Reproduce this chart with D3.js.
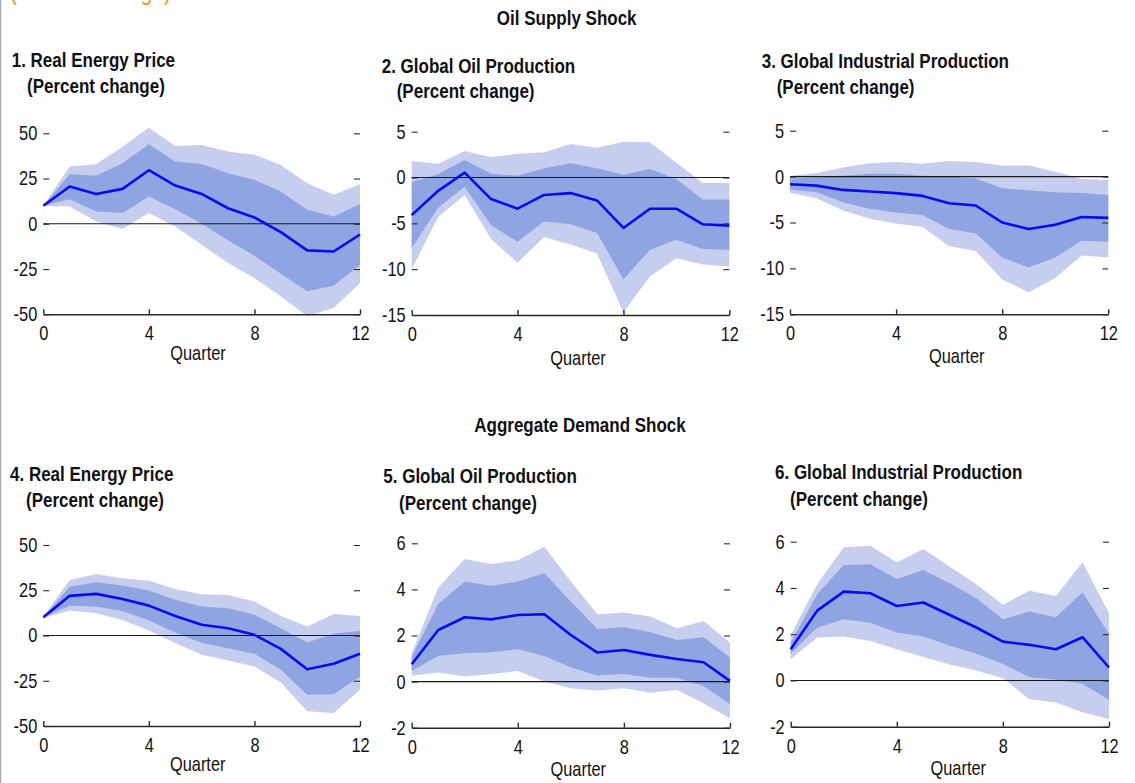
<!DOCTYPE html>
<html>
<head>
<meta charset="utf-8">
<script src="https://cdn.jsdelivr.net/npm/d3@7"></script>
<style>
  html, body { margin: 0; padding: 0; background: #ffffff; }
  svg { display: block; }
  text { font-family: "Liberation Sans", Arial, sans-serif; fill: #111; }
</style>
</head>
<body>
<svg id="chart" width="1135" height="783"></svg>
<script>
// Impulse responses, quarters 0..12: median with inner and outer confidence bands
const quarters = [0, 1, 2, 3, 4, 5, 6, 7, 8, 9, 10, 11, 12];
const xTicks = [0, 4, 8, 12];

// Oil supply shock — real energy price
const supplyPriceMedian  = [10, 20.6, 16.5, 19.3, 29.6, 21.1, 16.5, 8.6, 3.5, -4.6, -14.7, -15.3, -5.9];
const supplyPriceInnerHi = [10, 27.4, 26.5, 33.5, 43.9, 34.4, 33.1, 27.9, 24.3, 17.8, 7.7, 4.0, 11.0];
const supplyPriceInnerLo = [10, 13.6, 6.8, 5.9, 15.1, 8.1, 0, -9.2, -17.6, -27.6, -37.3, -34.2, -22.6];
const supplyPriceOuterHi = [10, 31.6, 32.9, 42.6, 53.1, 43.0, 43.6, 39.9, 38.1, 32.5, 22.4, 16.0, 21.9];
const supplyPriceOuterLo = [10, 9.6, 1.3, -2.9, 5.9, -1.5, -11.6, -21.7, -30.0, -40.1, -51.1, -46.5, -32.7];

// Oil supply shock — global oil production
const supplyOilMedian  = [-4.1, -1.45, 0.54, -2.35, -3.4, -1.9, -1.7, -2.5, -5.5, -3.4, -3.4, -5.1, -5.25];
const supplyOilInnerHi = [-0.5, 0.36, 1.9, 0.4, 0.2, 1.0, 1.56, 1.0, 0.3, 0.94, -0.15, -2.4, -2.4];
const supplyOilInnerLo = [-7.7, -3.3, -1.0, -5.2, -7.0, -4.8, -5.1, -6.05, -11.1, -7.9, -6.8, -7.8, -7.9];
const supplyOilOuterHi = [1.8, 1.5, 2.9, 2.2, 2.6, 2.75, 3.66, 3.26, 3.9, 3.84, 1.6, -0.6, -0.6];
const supplyOilOuterLo = [-10.0, -4.3, -1.9, -6.7, -9.3, -6.5, -7.3, -8.3, -14.7, -10.8, -8.8, -9.5, -9.7];

// Oil supply shock — global industrial production
const supplyIpMedian  = [-0.83, -0.98, -1.45, -1.63, -1.8, -2.1, -2.9, -3.15, -5.0, -5.7, -5.25, -4.4, -4.5];
const supplyIpInnerHi = [-0.2, -0.1, 0.1, 0.3, 0.3, 0.1, 0, -0.2, -1.27, -1.5, -1.7, -1.8, -2.0];
const supplyIpInnerLo = [-1.4, -1.7, -2.8, -3.5, -3.9, -4.2, -5.7, -6.2, -8.8, -9.9, -8.8, -7.0, -7.1];
const supplyIpOuterHi = [0.1, 0.36, 1.0, 1.45, 1.6, 1.4, 1.7, 1.6, 1.2, 1.2, 0.54, -0.25, -0.36];
const supplyIpOuterLo = [-1.8, -2.35, -3.7, -4.6, -5.1, -5.5, -7.6, -8.1, -11.2, -12.6, -11.05, -8.6, -8.8];

// Aggregate demand shock — real energy price
const demandPriceMedian  = [10.1, 21.9, 23.0, 20.2, 16.5, 10.8, 5.9, 4.0, 0.4, -7.4, -18.6, -15.6, -10.1];
const demandPriceInnerHi = [10.1, 27.0, 29.4, 27.6, 24.8, 19.7, 16.0, 15.1, 11.4, 4.0, -3.9, 0.9, 2.6];
const demandPriceInnerLo = [10.1, 16.4, 16.0, 13.6, 8.3, 1.65, -4.2, -7.0, -10.1, -18.9, -32.7, -32.4, -22.6];
const demandPriceOuterHi = [10.5, 30.7, 34.0, 31.6, 30.3, 25.7, 22.8, 22.4, 18.75, 10.8, 5.0, 11.9, 10.8];
const demandPriceOuterLo = [9.6, 13.8, 12.3, 8.6, 2.75, -4.2, -10.7, -13.8, -17.1, -25.9, -41.9, -42.8, -30.0];

// Aggregate demand shock — global oil production
const demandOilMedian  = [0.75, 2.24, 2.79, 2.70, 2.89, 2.92, 2.02, 1.26, 1.37, 1.16, 0.98, 0.84, 0.03];
const demandOilInnerHi = [1.08, 3.37, 4.34, 4.16, 4.34, 4.70, 3.47, 2.28, 2.36, 2.14, 1.81, 1.92, 1.05];
const demandOilInnerLo = [0.46, 1.11, 1.23, 1.27, 1.40, 1.11, 0.62, 0.26, 0.33, 0.17, 0.17, -0.19, -0.97];
const demandOilOuterHi = [1.23, 4.08, 5.32, 5.10, 5.27, 5.85, 4.34, 2.92, 3.0, 2.82, 2.31, 2.63, 1.69];
const demandOilOuterLo = [0.25, 0.39, 0.22, 0.33, 0.46, 0.0, -0.29, -0.39, -0.29, -0.48, -0.36, -0.94, -1.59];

// Aggregate demand shock — global industrial production
const demandIpMedian  = [1.35, 3.02, 3.84, 3.77, 3.22, 3.37, 2.83, 2.29, 1.68, 1.54, 1.35, 1.87, 0.56];
const demandIpInnerHi = [1.64, 3.73, 4.99, 5.02, 4.39, 4.78, 4.20, 3.55, 2.65, 2.98, 2.73, 3.81, 2.01];
const demandIpInnerLo = [1.15, 2.29, 2.65, 2.50, 2.07, 1.90, 1.50, 1.15, 0.71, 0.14, 0.03, -0.14, -0.83];
const demandIpOuterHi = [1.97, 4.16, 5.76, 5.83, 5.11, 5.68, 4.92, 4.16, 3.27, 3.88, 3.65, 5.11, 2.91];
const demandIpOuterLo = [0.92, 1.86, 1.90, 1.71, 1.35, 1.01, 0.68, 0.43, 0.10, -0.81, -0.95, -1.37, -1.67];

// Y tick labels per panel type
const priceTicks = [50, 25, 0, -25, -50];
const productionTicks = [5, 0, -5, -10, -15];
const demandProdTicks = [6, 4, 2, 0, -2];

const sectionTitles = ["Oil Supply Shock", "Aggregate Demand Shock"];
const panelTitles = [
  "1. Real Energy Price", "2. Global Oil Production", "3. Global Industrial Production",
  "4. Real Energy Price", "5. Global Oil Production", "6. Global Industrial Production"
];
const subTitle = "(Percent change)";
const xLabel = "Quarter";

const colors = { outer: "#c6cef0", inner: "#8fa5e1", line: "#0a0aee", zero: "#1a1a1a", axis: "#2a2a2a" };

// Horizontal squeeze giving the narrow typeface look
const REG_SX = 0.82, BOLD_SX = 0.85;

// Panel geometry (pixel frame of each plot, title and label anchors)
const panels = [
  { median: supplyPriceMedian, iHi: supplyPriceInnerHi, iLo: supplyPriceInnerLo, oHi: supplyPriceOuterHi, oLo: supplyPriceOuterLo,
    ticks: priceTicks, frame: [43.3, 360, 133.3, 314.3], t1: [11.7, 66.7], t2: [27, 92.7], q: [198, 360] },
  { median: supplyOilMedian, iHi: supplyOilInnerHi, iLo: supplyOilInnerLo, oHi: supplyOilOuterHi, oLo: supplyOilOuterLo,
    ticks: productionTicks, frame: [411.7, 729.3, 131.7, 315], t1: [381.7, 72.7], t2: [396.7, 98.3], q: [578, 365] },
  { median: supplyIpMedian, iHi: supplyIpInnerHi, iLo: supplyIpInnerLo, oHi: supplyIpOuterHi, oLo: supplyIpOuterLo,
    ticks: productionTicks, frame: [790, 1108.3, 130.7, 314.3], t1: [761.7, 68.3], t2: [776.7, 94.3], q: [956.7, 363] },
  { median: demandPriceMedian, iHi: demandPriceInnerHi, iLo: demandPriceInnerLo, oHi: demandPriceOuterHi, oLo: demandPriceOuterLo,
    ticks: priceTicks, frame: [43.3, 360, 545, 726], t1: [10, 480.7], t2: [26, 506.7], q: [197.7, 771] },
  { median: demandOilMedian, iHi: demandOilInnerHi, iLo: demandOilInnerLo, oHi: demandOilOuterHi, oLo: demandOilOuterLo,
    ticks: demandProdTicks, frame: [411.7, 730, 543.3, 727.7], t1: [383.3, 483.3], t2: [399, 510], q: [578.3, 776] },
  { median: demandIpMedian, iHi: demandIpInnerHi, iLo: demandIpInnerLo, oHi: demandIpOuterHi, oLo: demandIpOuterLo,
    ticks: demandProdTicks, frame: [790.7, 1109, 541.7, 726.7], t1: [775, 479], t2: [790, 506], q: [958.3, 775] }
];

const svg = d3.select("#chart");

// squeeze text horizontally while keeping its anchor point fixed
function squeeze(sel, sx) {
  sel.each(function () {
    const t = d3.select(this);
    const x = +(t.attr("x") || 0);
    t.attr("x", x / sx).attr("transform", `scale(${sx},1)`);
  });
  return sel;
}

function label(parent, x, y, str, opts = {}) {
  const t = parent.append("text").attr("x", x).attr("y", y)
    .attr("font-size", opts.size || 20)
    .attr("font-weight", opts.bold ? "bold" : "normal")
    .attr("text-anchor", opts.anchor || "start")
    .text(str);
  if (opts.color) t.style("fill", opts.color);
  return squeeze(t, opts.sx || (opts.bold ? BOLD_SX : REG_SX));
}

// Page edge rule and the clipped heading above the panels
svg.append("rect").attr("x", 0).attr("y", 0).attr("width", 1.2).attr("height", 783).attr("fill", "#aaaaaa");
label(svg, 10, 0, subTitle, { size: 25, color: "#f7941d", sx: 0.84 });

// Section headings
label(svg, 566.7, 25, sectionTitles[0], { bold: true, anchor: "middle" });
label(svg, 580, 431.7, sectionTitles[1], { bold: true, anchor: "middle" });

panels.forEach((p, i) => {
  const [x0, x1, yTop, yBot] = p.frame;
  const x = d3.scaleLinear().domain([0, 12]).range([x0, x1]);
  const y = d3.scaleLinear().domain([d3.min(p.ticks), d3.max(p.ticks)]).range([yBot, yTop]);
  const g = svg.append("g");

  const band = (hi, lo) => d3.area()
    .x((d, k) => x(quarters[k]))
    .y0((d, k) => y(lo[k]))
    .y1((d, k) => y(hi[k]))(quarters);

  g.append("path").attr("d", band(p.oHi, p.oLo)).attr("fill", colors.outer);
  g.append("path").attr("d", band(p.iHi, p.iLo)).attr("fill", colors.inner);

  // zero reference line
  g.append("line").attr("x1", x(0)).attr("x2", x(12)).attr("y1", y(0)).attr("y2", y(0))
    .attr("stroke", colors.zero).attr("stroke-width", 1.1);

  // median response
  g.append("path")
    .attr("d", d3.line().x((d, k) => x(quarters[k])).y((d, k) => y(p.median[k]))(quarters))
    .attr("fill", "none").attr("stroke", colors.line).attr("stroke-width", 2.6)
    .attr("stroke-linejoin", "round");

  // left axis: labels with inward ticks, no spine
  const yAxisL = g.append("g").attr("transform", `translate(${x0},0)`)
    .call(d3.axisLeft(y).tickValues(p.ticks).tickSize(-6).tickPadding(6).tickFormat(d => String(d)));
  yAxisL.select(".domain").remove();
  yAxisL.selectAll("line").attr("stroke", colors.axis).attr("stroke-width", 1.1);
  yAxisL.selectAll("text").attr("font-size", 20).attr("font-family", null).style("fill", "#111");
  squeeze(yAxisL.selectAll("text"), REG_SX);

  // right axis: inward ticks only
  const yAxisR = g.append("g").attr("transform", `translate(${x1},0)`)
    .call(d3.axisRight(y).tickValues(p.ticks).tickSize(-6).tickFormat(""));
  yAxisR.select(".domain").remove();
  yAxisR.selectAll("line").attr("stroke", colors.axis).attr("stroke-width", 1.1);

  // bottom axis with upward ticks
  const xAxis = g.append("g").attr("transform", `translate(0,${yBot})`)
    .call(d3.axisBottom(x).tickValues(xTicks).tickSizeInner(-5).tickSizeOuter(0).tickPadding(12)
      .tickFormat(d => String(d)));
  xAxis.select(".domain").attr("stroke", colors.axis).attr("stroke-width", 1.6);
  xAxis.selectAll("line").attr("stroke", colors.axis).attr("stroke-width", 1.4);
  xAxis.selectAll("text").attr("font-size", 20).attr("font-family", null).style("fill", "#111");
  squeeze(xAxis.selectAll("text"), REG_SX);

  label(g, p.q[0], p.q[1], xLabel, { anchor: "middle" });
  label(g, p.t1[0], p.t1[1], panelTitles[i], { bold: true });
  label(g, p.t2[0], p.t2[1], subTitle, { bold: true });
});
</script>
</body>
</html>
